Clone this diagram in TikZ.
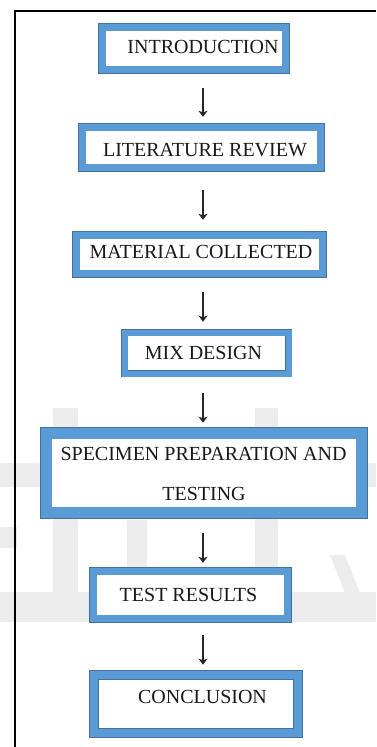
\documentclass[tikz,border=0pt]{standalone}
\usepackage{fontspec}
\setmainfont{Liberation Serif}
\usetikzlibrary{arrows.meta}
\definecolor{boxblue}{RGB}{91,155,213}
\definecolor{edgeblue}{RGB}{65,113,156}
\definecolor{wm}{RGB}{236,236,236}
\tikzset{
  box/.style={draw=edgeblue, line width=0.6pt, double=boxblue, double distance=#1, fill=white, inner sep=0pt},
  box/.default=7pt,
  lbl/.style={anchor=base, font=\fontsize{20}{24}\selectfont, text=black!90, inner sep=0pt},
  arr/.style={draw=black!85, line width=1.2pt, -{Stealth[length=6pt,width=9pt,inset=1.5pt]}}
}
\begin{document}
\begin{tikzpicture}[x=1pt,y=-1pt]
\useasboundingbox (0,0) rectangle (376,747);
% faint watermark
\fill[wm] (0,463) rectangle (376,487);
\fill[wm] (53,408) rectangle (78,600);
\fill[wm] (255,408) rectangle (278,600);
\fill[wm] (0,527) rectangle (17,548);
\fill[wm] (127,520) rectangle (147,570);
\fill[wm] (0,592) rectangle (376,622);
\fill[wm] (330,555) -- (345,555) -- (360,593) -- (345,593) -- cycle;
% frame
\draw[line width=1.5pt, black] (376,10.8) -- (14.8,10.8) -- (14.8,747);
% boxes
\node[box, minimum width=183.8pt, minimum height=42.8pt] (intro) at (194,48.5) {};
\node[box, minimum width=238.8pt, minimum height=40.8pt] (lit) at (201.5,147.5) {};
\node[box, minimum width=246.8pt, minimum height=38.8pt] (mat) at (199.5,254.5) {};
\node[box=6pt, minimum width=164pt, minimum height=41pt] (mix) at (206.5,353) {};
\node[box=11.2pt, minimum width=315.6pt, minimum height=79.6pt] (spec) at (204,473) {};
\node[box, minimum width=194.8pt, minimum height=47.8pt] (test) at (190.5,595) {};
\node[box=8.8pt, minimum width=204pt, minimum height=58pt] (conc) at (196,704) {};
% labels
\node[lbl] (introT) at (203,53.3) {INTRODUCTION};
\node[lbl] (litT) at (205,156.7) {LITERATURE REVIEW};
\node[lbl] (matT) at (201,258) {MATERIAL COLLECTED};
\node[lbl] (mixT) at (203.5,359) {MIX DESIGN};
\node[lbl] (specT1) at (203.5,460.7) {SPECIMEN PREPARATION AND};
\node[lbl] (specT2) at (204,500) {TESTING};
\node[lbl] (testT) at (188.5,601.7) {TEST RESULTS};
\node[lbl] (concT) at (202.5,703) {CONCLUSION};
% arrows
\coordinate (ax) at (203,0);
\draw[arr, shorten <=18pt, shorten >=10pt] (intro.south -| ax) -- (lit.north -| ax);
\draw[arr, shorten <=22pt, shorten >=15pt] (lit.south -| ax) -- (mat.north -| ax);
\draw[arr, shorten <=18pt, shorten >=10.5pt] (mat.south -| ax) -- (mix.north -| ax);
\draw[arr, shorten <=19.5pt, shorten >=10.2pt] (mix.south -| ax) -- (spec.north -| ax);
\draw[arr, shorten <=20pt, shorten >=8pt] (spec.south -| ax) -- (test.north -| ax);
\draw[arr, shorten <=16pt, shorten >=10pt] (test.south -| ax) -- (conc.north -| ax);
\end{tikzpicture}
\end{document}
